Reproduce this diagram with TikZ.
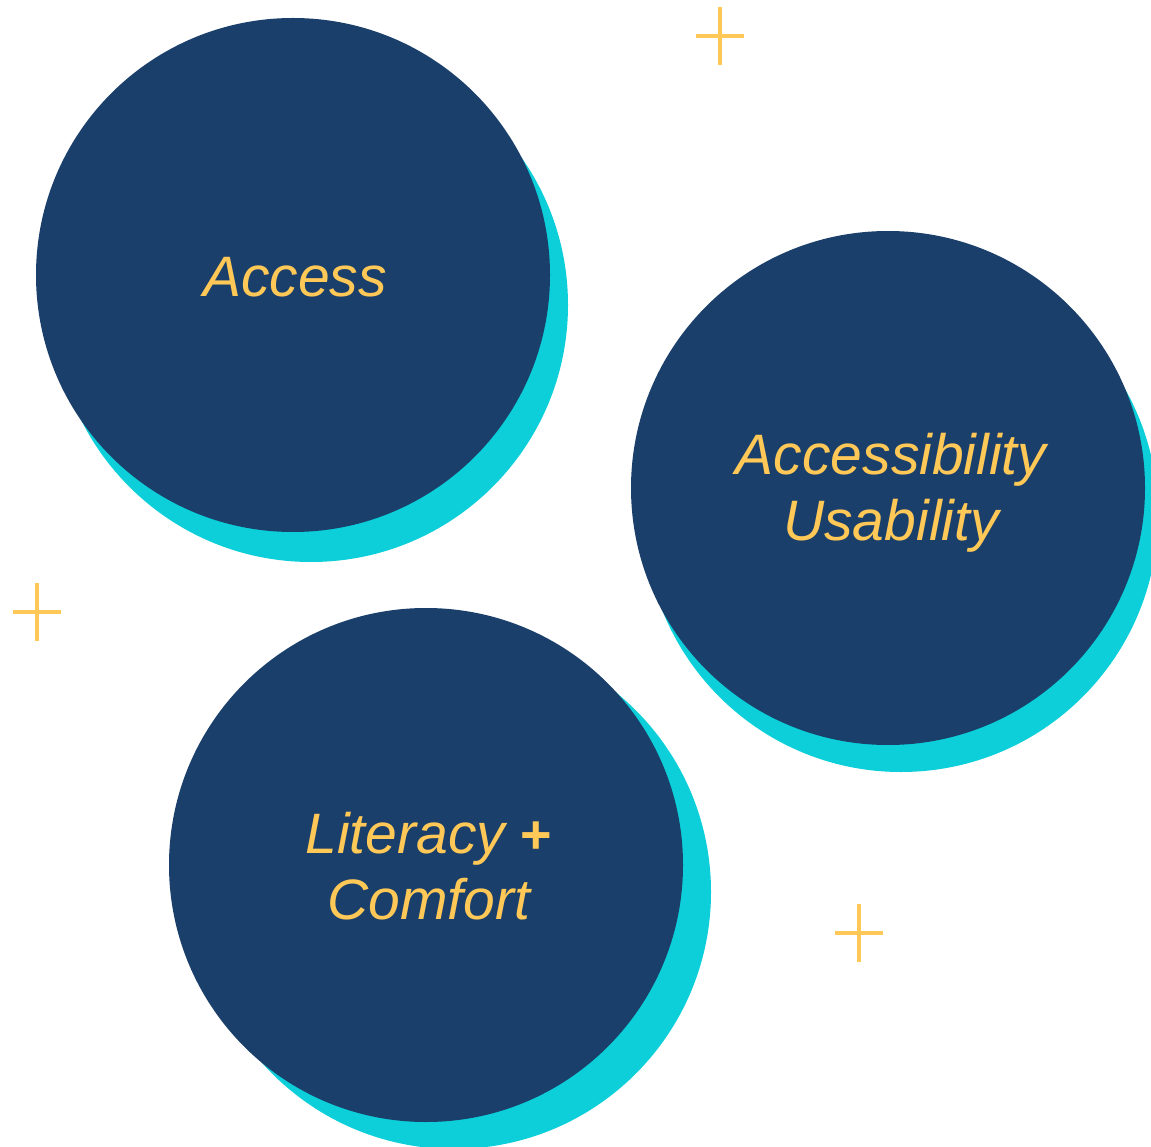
\documentclass[tikz,border=0pt]{standalone}
\usepackage{fontspec}
\usepackage{xcolor}
\usepackage{tikz}
\setmainfont{Liberation Sans}
\definecolor{Navy}{HTML}{1A3F6B}
\definecolor{Aqua}{HTML}{0CCFD9}
\definecolor{Gold}{HTML}{FFC857}
\definecolor{White}{HTML}{FFFFFF}

\begin{document}
\begin{tikzpicture}[x=1pt, y=-1pt]
  \tikzstyle{disc} = [circle, fill=Navy, minimum size=514pt, inner sep=0pt]
  \tikzstyle{halo} = [circle, fill=Aqua, minimum size=514pt, inner sep=0pt]
  \tikzstyle{caption} = [align=center, text=Gold, inner sep=0pt, font=\fontsize{57}{66}\selectfont\itshape]
  \tikzstyle{spark} = [draw=Gold, line width=4pt]

  \useasboundingbox[fill=White] (0,0) rectangle (1151,1147);
  \clip (0,0) rectangle (1151,1147);

  \node [halo] (accesshalo) at (311,305) {};
  \node [halo] (usehalo) at (901,515) {};
  \node [halo] (literacyhalo) at (454,892) {};

  \node [disc] (access) at (293,275) {};
  \node [disc] (usability) at (888,488) {};
  \node [disc] (literacy) at (426,865) {};

  \node [caption] (accesstext) at (295,277) {Access};
  \node [caption] (usabilitytext) at (891,493) {Accessibility\\Usability};
  \node [caption] (literacytext) at (429,866) {Literacy {\upshape\bfseries\fontsize{54}{66}\selectfont +}\\Comfort};

  % little plus marks
  \foreach \x/\y/\n in {720/36/a, 37/612/b, 859/933/c} {
    \coordinate (plus\n) at (\x,\y);
    \draw [spark] ([xshift=-24pt]plus\n) -- ([xshift=24pt]plus\n);
    \draw [spark] ([yshift=-29pt]plus\n) -- ([yshift=29pt]plus\n);
  }
\end{tikzpicture}
\end{document}
